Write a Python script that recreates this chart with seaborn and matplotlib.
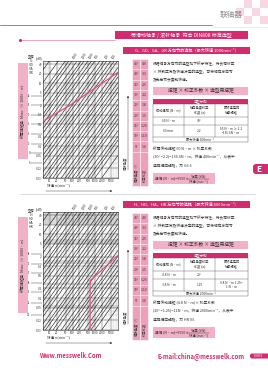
import numpy as np
import pandas as pd
import matplotlib
matplotlib.use('Agg')
import matplotlib.pyplot as plt
import seaborn as sns
from matplotlib.patches import Rectangle, FancyBboxPatch

W, H = 268, 380
sns.set_theme(style='white')
plt.rcParams['font.family'] = ['Noto Sans CJK SC', 'DejaVu Sans']

MAG = '#d42a6e'
PINK = '#f3b1c7'
PINK2 = '#ee9fbb'

# ---------------- data ----------------
torque_lines = [0.05, 0.1, 0.15, 0.2, 0.3, 0.5, 0.7, 1, 1.5, 2, 3, 5, 7, 10, 15, 20, 30,
                50, 70, 100, 150, 200, 300, 500, 700, 1000, 1500, 2000, 3000, 5000,
                7000, 10000, 20000, 50000]
label_lines = [0.1, 0.2, 0.5, 1, 2, 5, 10, 20, 50, 100, 200, 500, 1000, 2000, 5000]
speed_range = [5, 10000]
power_range = [0.01, 50]
x_ticks = [10, 20, 50, 100, 200, 500, 1000, 2000, 5000]
x_ticklabels = ['10', '20', '50', '100', '200', '500', '1000', '2000', '5000']
y_ticks = [0.01, 0.02, 0.05, 0.1, 0.2, 0.5, 1, 2, 5, 10, 20, 40]
y_ticklabels = ['0.01', '0.02', '0.05', '0.1', '0.2', '0.5', '1.0', '2', '5', '10', '20', '40']

curve1_n = [6, 78, 980, 10000]
curve1_P = [0.68, 2.0, 7.0, 22]
curve2_n = [590, 590, 10000]
curve2_P = [0.01, 0.35, 2.2]
bands2_lo = [20, 5, 1.2, 0.25, 0.05]
bands2_hi = [45, 7, 1.6, 0.3, 0.06]

models1 = ['G', 'GD', 'GA', 'GR']
models2 = ['H', 'HD', 'HA', 'HR']
sizes1 = ['6', '8', '10', '13', '16', '20', '25', '32']
sizes1_P = [0.03, 0.06, 0.12, 0.25, 0.5, 1.0, 2.0, 4.0]
sizes2 = ['01', '02', '03', '04', '05', '06', '08']
sizes2_P = [0.03, 0.07, 0.15, 0.3, 0.6, 1.2, 2.5]

angles = ['45°', '40°', '35°', '30°', '25°', '20°', '15°', '10°', '5°']
factors = ['4.0', '3.3', '2.5', '2.2', '1.8', '1.5', '1.25', '1.10', '1.0']

fig = plt.figure(figsize=(W / 100, H / 100), dpi=100)
fig.patch.set_facecolor('white')


def px_axes(x0, y0, x1, y1):
    return fig.add_axes([x0 / W, 1 - y1 / H, (x1 - x0) / W, (y1 - y0) / H])


def draw_chart(ax, curve_n, curve_P, bands=None):
    ax.set_facecolor('white')
    df = pd.DataFrame([{'M': m, 'n': n, 'P': m * n / 9550}
                       for m in torque_lines for n in speed_range])
    if bands:
        for lo, hi in zip(*bands):
            ax.axhspan(lo, hi, color='#c4c4c4', alpha=0.6, lw=0, zorder=0)
    sns.lineplot(data=df, x='n', y='P', units='M', estimator=None,
                 color='#111111', lw=0.4, ax=ax, legend=False)
    cdf = pd.DataFrame({'n': curve_n, 'P': curve_P})
    sns.lineplot(data=cdf, x='n', y='P', sort=False, estimator=None,
                 color='#e0507f', lw=0.9, ax=ax, legend=False)
    ax.set_xscale('log')
    ax.set_yscale('log')
    ax.set_xlim(*speed_range)
    ax.set_ylim(*power_range)
    ax.grid(which='major', color='#333333', lw=0.3)
    ax.grid(which='minor', color='#999999', lw=0.15)
    ax.set_xticks(x_ticks)
    ax.set_xticklabels(x_ticklabels)
    ax.set_yticks(y_ticks)
    ax.set_yticklabels(y_ticklabels)
    ax.minorticks_on()
    ax.tick_params(which='both', length=0, labelsize=2.2, pad=0.8, colors='#333333')
    ax.set_xlabel('')
    ax.set_ylabel('')
    for s in ax.spines.values():
        s.set_linewidth(0.4)
        s.set_color('#222222')
    for m in label_lines:
        n_top = 9550 * power_range[1] / m
        if speed_range[0] * 1.3 < n_top < speed_range[1] * 0.9:
            ax.text(n_top, power_range[1] * 1.15, f'{m:g}', rotation=60,
                    fontsize=2.2, ha='left', va='bottom', clip_on=False, color='#333333')
    ax.text(-0.01, 1.01, '(kW)', transform=ax.transAxes, fontsize=2.3,
            ha='right', va='bottom', color='#333333')


# ---------- charts ----------
ax1 = px_axes(43, 61, 118, 178)
draw_chart(ax1, curve1_n, curve1_P)
ax2 = px_axes(43, 212, 118, 330)
draw_chart(ax2, curve2_n, curve2_P, bands=(bands2_lo, bands2_hi))

for ax, sizes, sP in ((ax1, sizes1, sizes1_P), (ax2, sizes2, sizes2_P)):
    for s, p in zip(sizes, sP):
        ax.plot([-0.16, -0.02], [p, p], transform=ax.get_yaxis_transform(),
                color='#333333', lw=0.3, clip_on=False)
        ax.text(-0.17, p, s, transform=ax.get_yaxis_transform(), fontsize=2.2,
                ha='right', va='center', color='#333333')

# ---------- overlay ----------
ov = fig.add_axes([0, 0, 1, 1], zorder=5)
ov.set_xlim(0, W)
ov.set_ylim(H, 0)
ov.axis('off')
ov.patch.set_alpha(0)


def rect(x0, y0, x1, y1, fc, ec='none', lw=0.3, **kw):
    ov.add_patch(Rectangle((x0, y0), x1 - x0, y1 - y0, fc=fc, ec=ec, lw=lw, **kw))


def txt(x, y, s, size=3, color='#333333', **kw):
    kw.setdefault('ha', 'left')
    kw.setdefault('va', 'center')
    ov.text(x, y, s, fontsize=size, color=color, **kw)


# header
for (cx, cy) in [(244, 0), (260, 0), (252, 8), (236, 8), (260, 16), (244, 16)]:
    rect(cx, cy, cx + 8, cy + 8, '#f8d6e2')
txt(231, 15, '联轴器', size=5.5, color='#8a8a8a', ha='center')
ov.plot([0, 212], [25, 25], color='#e0608e', lw=0.7)
ov.plot([212, 268], [27, 27], color='#dddddd', lw=0.4)

# banner 1
rect(115, 31, 248, 38.5, MAG)
txt(181.5, 34.8, '带滑动轴承 / 滚针轴承  符合 DIN808 标准选型', size=3.6, color='white', ha='center')
ov.plot([20, 115], [40, 40], color='#e0608e', lw=0.4)
ov.plot([20], [40], marker='o', ms=1.2, color=MAG)


def section(y0, banner, model_list, table_rows, note_lines, speed_txt):
    rect(123, y0, 250, y0 + 6.5, MAG)
    txt(186.5, y0 + 3.3, banner, size=3.0, color='white', ha='center')
    # model label
    txt(31, y0 + 9, '型号', size=2.5, ha='center')
    for i, m in enumerate(model_list):
        txt(31, y0 + 14 + i * 4, m, size=2.5, ha='center')
    # left pink box
    rect(18, y0 + 16, 27.5, y0 + 112, PINK)
    txt(22.8, y0 + 64, '所需扭矩值  M$_{max}$（×100N·m）', size=2.7, color='#333333',
        ha='center', rotation=90)
    # angle table
    top = y0 + 12
    step = 10.3
    rect(132, top, 140, y0 + 139, PINK2, ec='white', lw=0.4)
    rect(140, top, 148, y0 + 139, PINK2, ec='white', lw=0.4)
    for i, (a, f) in enumerate(zip(angles, factors)):
        yy = top + i * step
        ov.plot([132, 148], [yy + step, yy + step], color='white', lw=0.4)
        txt(136, yy + step / 2, a, size=2.5, ha='center')
        txt(144, yy + step / 2, f, size=2.5, ha='center')
    txt(136, y0 + 124, '偏转角度（°）', size=2.4, ha='center', rotation=90)
    txt(144, y0 + 128, '校正系数', size=2.4, ha='center', rotation=90)
    ov.annotate('', xy=(128, y0 + 46), xytext=(128, y0 + 126),
                arrowprops=dict(arrowstyle='-|>', lw=0.3, color='#333333', mutation_scale=3))
    txt(125, y0 + 116, '偏转角度', size=2.4, ha='center', rotation=90)
    # description
    lines = ['根据轴承方向节的选型如下所示特性，将负荷修正',
             '× 转数正常及转速决定的选型，可将轴向方向节',
             '及无后节长度和转速。']
    for i, l in enumerate(lines):
        txt(153, y0 + 17 + i * 8, l, size=2.7)
    rect(153, y0 + 40, 248, y0 + 47.5, PINK)
    txt(200.5, y0 + 43.8, '扭矩 × 校正系数 × 选型用扭矩', size=3.4, ha='center', color='#333333')
    # example table
    rect(153, y0 + 52, 248, y0 + 56.5, MAG)
    txt(200.5, y0 + 54.3, '选型示例', size=2.4, color='white', ha='center')
    rect(153, y0 + 56.5, 248, y0 + 95, 'none', ec='#555555', lw=0.3)
    cols = [153, 184, 215, 248]
    rows = [56.5, 70, 78, 90, 95]
    for r in rows[1:-1]:
        ov.plot([153, 248], [y0 + r, y0 + r], color='#555555', lw=0.3)
    for c in cols[1:-1]:
        ov.plot([c, c], [y0 + 56.5, y0 + 90], color='#555555', lw=0.3)
    heads = ['传动扭矩 (N·m)', '轴向角度校正\n系数 (α)', '最终选定的\n轴承规格']
    for i, hd in enumerate(heads):
        txt((cols[i] + cols[i + 1]) / 2, y0 + 63, hd, size=2.3, ha='center', linespacing=1.1)
    for j, row in enumerate(table_rows):
        yc = y0 + (rows[j + 1] + rows[j + 2]) / 2
        for i, v in enumerate(row):
            txt((cols[i] + cols[i + 1]) / 2, yc, v, size=2.3, ha='center', linespacing=1.1)
    txt(200.5, y0 + 92.5, speed_txt, size=2.3, ha='center')
    for i, l in enumerate(note_lines):
        txt(153, y0 + 102 + i * 8.5, l, size=2.7)
    # formula box
    rect(153, y0 + 126, 215, y0 + 137, PINK)
    txt(155, y0 + 131.5, '扭矩 (N·m)=9550×', size=2.6)
    txt(198, y0 + 129, '功率 (kW)', size=2.4, ha='center')
    ov.plot([187, 209], [y0 + 131.5, y0 + 131.5], color='#333333', lw=0.3)
    txt(198, y0 + 134.2, '转速 (min⁻¹)', size=2.4, ha='center')


section(47, 'G、GD、GA、GR 万向节的选择（最大转速 1000min⁻¹）', models1,
        [['60 N·m', '30°', ''], ['60 mm', '2.2', '55 N·m ≥ 2.2\n=136.6N·m']],
        ['所需传动扭矩 60 N·m × 校正系数',
         '(30° =2.2)=136.6N·m，转速 400min⁻¹，从表中',
         '选择相应规格，为 G6 6'],
        '最大转速 400min⁻¹')
section(201, 'H、HD、HA、HR 万向节的选择（最大转速 4000min⁻¹）', models2,
        [['4.8 N·m', '20°', ''], ['3.8 N·m', '1.25', '0.8 N·m 1.25=\n1 N·m']],
        ['所需传动扭矩 (4.8 N·m)× 校正系数',
         '(20° =1.25)=11N·m，转速 2000min⁻¹，从表中',
         '选择相应规格，为 HR 03.'],
        '最大转速 2000min⁻¹')

# x labels / arrows
for yb in (185, 337):
    txt(47, yb, '转速 n(min⁻¹)', size=2.6)
    ov.annotate('', xy=(115, yb + 6), xytext=(43, yb + 6),
                arrowprops=dict(arrowstyle='-|>', lw=0.3, color='#333333', mutation_scale=3))

# separator
ov.plot([20, 255], [194, 194], color='#cccccc', lw=0.5)

# E badge
ov.add_patch(FancyBboxPatch((253, 164), 20, 10, boxstyle='round,pad=0,rounding_size=3',
                            fc=MAG, ec='none'))
txt(259, 169, 'E', size=6, color='white', ha='center', weight='bold')

# footer
txt(40, 356, 'Www.messwelk.Com', size=4.3, color=MAG, weight='bold')
txt(158, 356, 'E-mail:china@messwelk.com', size=4.3, color=MAG, weight='bold')
ov.add_patch(FancyBboxPatch((250, 353.5), 20, 5, boxstyle='round,pad=0,rounding_size=2',
                            fc=MAG, ec='none'))
txt(258, 356, 'E-003', size=2.5, color='white', ha='center')

fig.savefig('out.png', dpi=100, facecolor='white')
